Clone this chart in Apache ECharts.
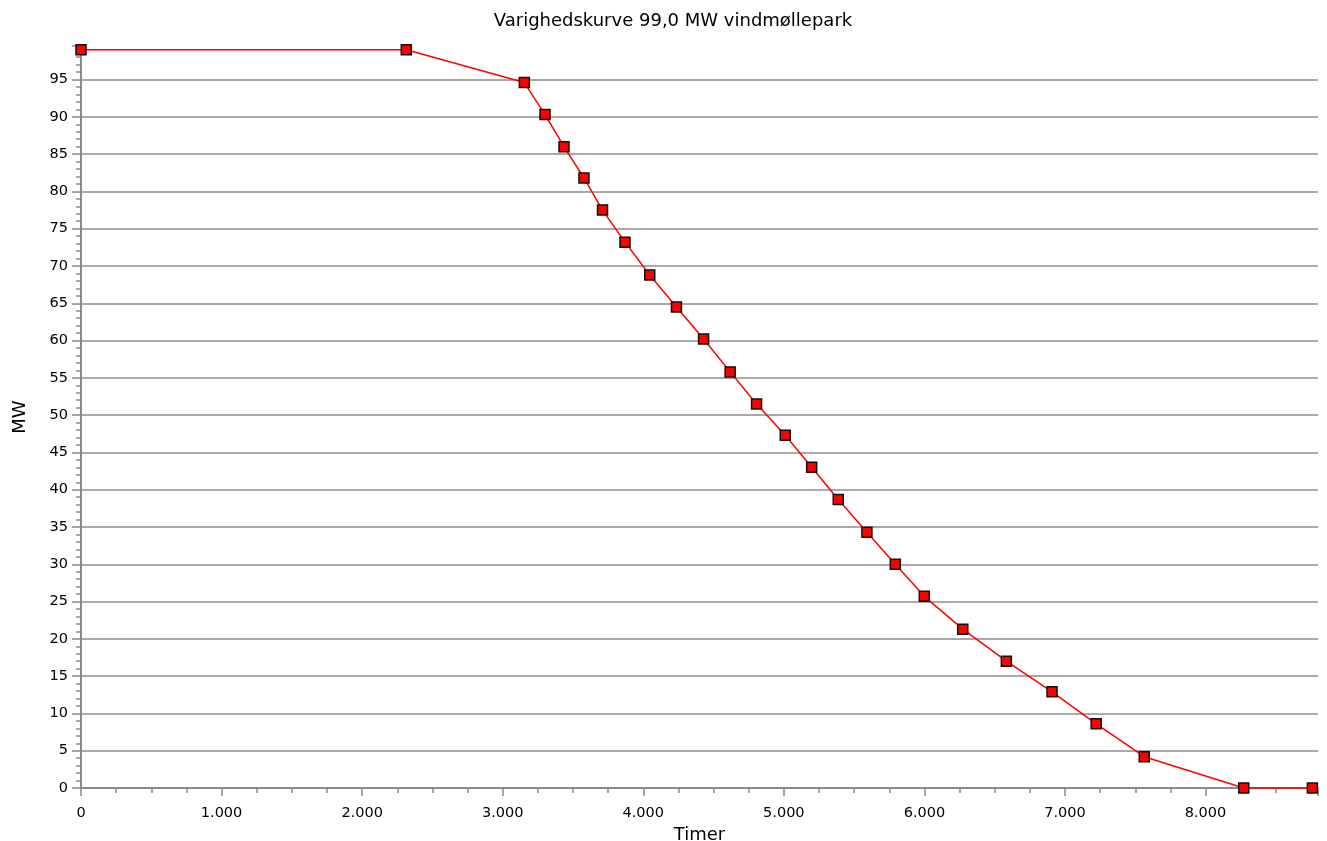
<!DOCTYPE html>
<html>
<head>
<meta charset="utf-8">
<script src="https://cdn.jsdelivr.net/npm/echarts@6/dist/echarts.min.js"></script>
<style>
html,body{margin:0;padding:0;background:#fff;}
#chart{width:1327px;height:841px;}
</style>
</head>
<body>
<div id="chart"></div>
<script>
// Data (hours vs MW)
var hours = [0, 2314, 3154, 3301, 3436, 3578, 3710, 3870, 4046, 4236, 4429, 4618, 4806, 5010, 5198, 5387, 5591, 5793, 5999, 6273, 6583, 6908, 7222, 7564, 8272, 8760];
var mw    = [99, 99, 94.6, 90.3, 86.0, 81.8, 77.5, 73.2, 68.8, 64.5, 60.2, 55.8, 51.5, 47.3, 43.0, 38.7, 34.3, 30.0, 25.7, 21.3, 17.0, 12.9, 8.6, 4.2, 0, 0];
var titleText = 'Varighedskurve 99,0 MW vindmøllepark';
var xName = 'Timer';
var yName = 'MW';

var points = hours.map(function (h, i) { return [h, mw[i]]; });
var font = 'DejaVu Sans';

function fmtThousands(v) {
  return String(v).replace(/\B(?=(\d{3})+(?!\d))/g, '.');
}

var chart = echarts.init(document.getElementById('chart'), null, {renderer: 'canvas'});
chart.setOption({
  animation: false,
  backgroundColor: '#ffffff',
  title: {
    text: titleText,
    left: 668,
    textAlign: 'center',
    top: 7,
    textStyle: {fontFamily: font, fontSize: 18, fontWeight: 'normal', color: '#000'}
  },
  grid: {left: 81, right: 9, top: 46, bottom: 53, containLabel: false, outerBoundsMode: 'none'},
  xAxis: {
    type: 'value',
    min: 0,
    max: 8800,
    interval: 1000,
    name: xName,
    nameLocation: 'middle',
    nameGap: 31,
    nameTextStyle: {fontFamily: font, fontSize: 18, color: '#000'},
    axisLine: {show: true, onZero: false, lineStyle: {color: '#8a8a8a', width: 2}},
    axisTick: {show: true, inside: false, length: 8, lineStyle: {color: '#8a8a8a', width: 1.5}},
    minorTick: {show: true, splitNumber: 4, length: 5, lineStyle: {color: '#8a8a8a', width: 1.5}},
    axisLabel: {
      margin: 18,
      fontFamily: font, fontSize: 14.5, color: '#000',
      formatter: function (v) { return (v % 1000 === 0) ? fmtThousands(v) : ''; }
    },
    splitLine: {show: false}
  },
  yAxis: {
    type: 'value',
    min: 0,
    max: 99.5,
    interval: 5,
    name: yName,
    nameLocation: 'middle',
    nameGap: 52,
    nameTextStyle: {fontFamily: font, fontSize: 18, color: '#000'},
    axisLine: {show: true, onZero: false, lineStyle: {color: '#8a8a8a', width: 2}},
    axisTick: {show: true, inside: false, length: 9, lineStyle: {color: '#8a8a8a', width: 1.5}},
    minorTick: {show: true, splitNumber: 5, length: 5, lineStyle: {color: '#8a8a8a', width: 1.5}},
    axisLabel: {
      margin: 13,
      fontFamily: font, fontSize: 14.5, color: '#000',
      formatter: function (v) { return (v % 5 === 0) ? String(v) : ''; }
    },
    splitLine: {show: true, showMinLine: false, showMaxLine: false, lineStyle: {color: '#8c8c8c', width: 1.5}}
  },
  series: [{
    type: 'line',
    data: points,
    symbol: 'rect',
    symbolSize: 10,
    clip: false,
    lineStyle: {color: '#ff0000', width: 1.5},
    itemStyle: {color: '#ff0000', borderColor: '#111', borderWidth: 1.5},
    z: 5
  }]
});
</script>
</body>
</html>
